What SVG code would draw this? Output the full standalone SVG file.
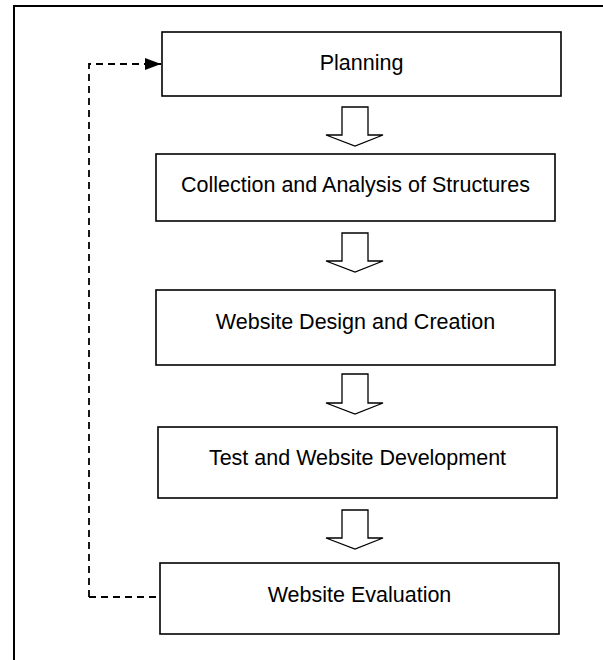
<svg xmlns="http://www.w3.org/2000/svg" width="603" height="660" viewBox="0 0 603 660">
<style>
.box{fill:#fff;stroke:#000;stroke-width:1.6}
.lbl{font-family:"Liberation Sans",Arial,sans-serif;font-size:21.5px;fill:#000;text-anchor:middle}
.blk{fill:#fff;stroke:#000;stroke-width:1.3;stroke-linejoin:miter}
.dash{fill:none;stroke:#000;stroke-width:1.8;stroke-dasharray:7,5}
</style>
<defs>
<marker id="ah" markerWidth="16" markerHeight="12" refX="16" refY="6" orient="auto" markerUnits="userSpaceOnUse">
<path d="M0,0 L16,6 L0,12 Z" fill="#000"/>
</marker>
</defs>
<rect width="603" height="660" fill="#fff"/>
<rect x="14" y="6" width="600" height="670" fill="none" stroke="#000" stroke-width="2"/>
<g id="connectors">
<path class="dash" d="M89,597 L89,64 L161,64" marker-end="url(#ah)"/>
<path class="dash" d="M89,597 L160,597"/>
<polygon class="blk" points="342,107 368,107 368,135 383,135 355,146 326,135 342,135"/>
<polygon class="blk" points="342,233 368,233 368,261 383,261 355,272 326,261 342,261"/>
<polygon class="blk" points="342,374 368,374 368,403 383,403 355,414 326,403 342,403"/>
<polygon class="blk" points="342,510 368,510 368,538 383,538 355,549 326,538 342,538"/>
</g>
<g id="n1"><rect class="box" x="162" y="32" width="399" height="64"/><text class="lbl" x="361.5" y="70">Planning</text></g>
<g id="n2"><rect class="box" x="156" y="154" width="399" height="67"/><text class="lbl" x="355.5" y="192">Collection and Analysis of Structures</text></g>
<g id="n3"><rect class="box" x="156" y="290" width="399" height="75"/><text class="lbl" x="355.5" y="329">Website Design and Creation</text></g>
<g id="n4"><rect class="box" x="158" y="427" width="399" height="71"/><text class="lbl" x="357.5" y="465">Test and Website Development</text></g>
<g id="n5"><rect class="box" x="160" y="563" width="399" height="71"/><text class="lbl" x="359.5" y="602">Website Evaluation</text></g>
</svg>
